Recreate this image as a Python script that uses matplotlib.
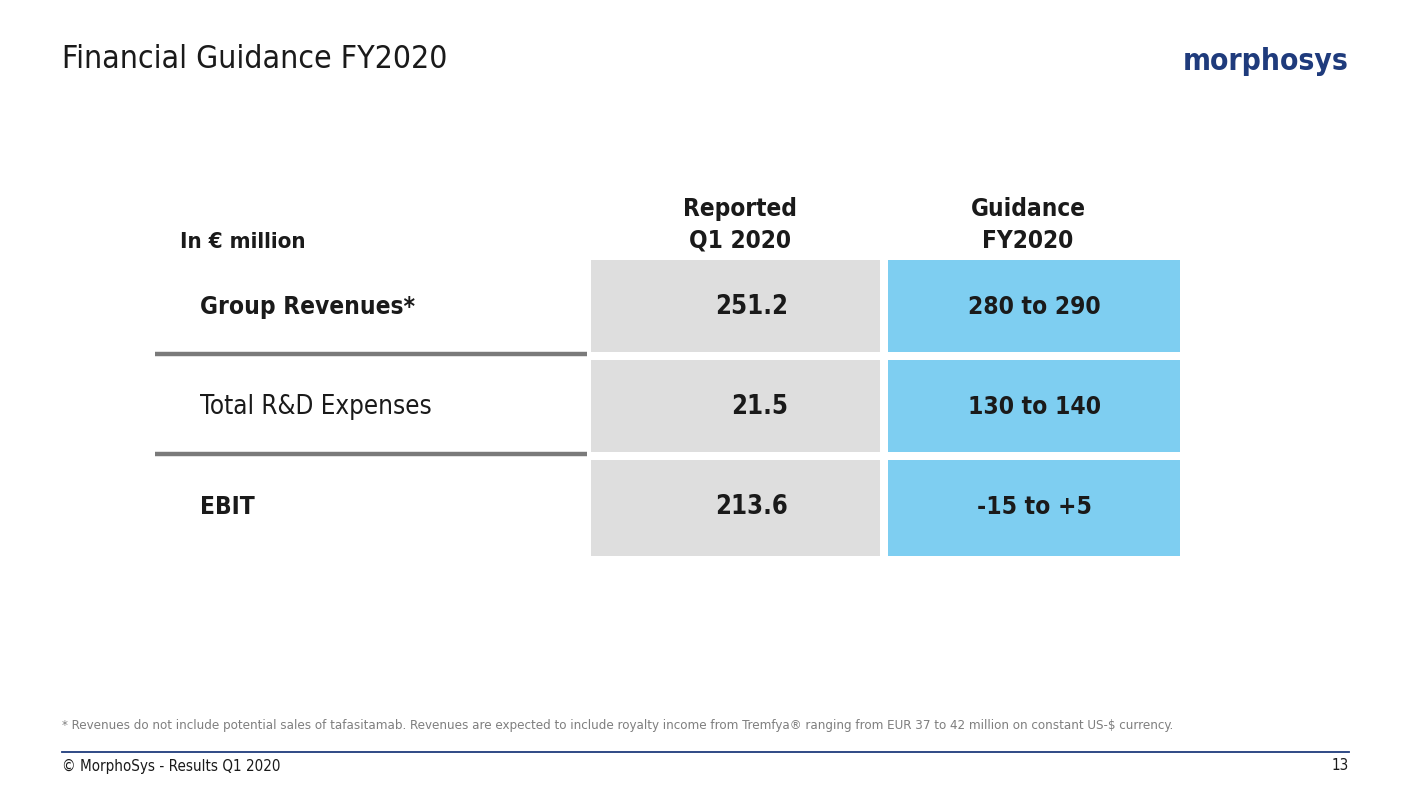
import matplotlib
matplotlib.use("Agg")
import matplotlib.pyplot as plt
from matplotlib.patches import Rectangle
from matplotlib import font_manager as fm

title = "Financial Guidance FY2020"
unit_label = "In € million"
col_headers = ["Reported\nQ1 2020", "Guidance\nFY2020"]
row_labels = ["Group Revenues*", "Total R&D Expenses", "EBIT"]
row_bold = [True, False, True]
reported = ["251.2", "21.5", "213.6"]
guidance = ["280 to 290", "130 to 140", "-15 to +5"]
footnote = ("* Revenues do not include potential sales of tafasitamab. Revenues are expected to include "
            "royalty income from Tremfya® ranging from EUR 37 to 42 million on constant US-$ currency.")
footer_left = "© MorphoSys - Results Q1 2020"
footer_right = "13"
logo = "morphosys"

# pick a condensed face if available
def has_condensed(weight):
    try:
        p = fm.FontProperties(family='DejaVu Sans', stretch='condensed', weight=weight)
        f = fm.findfont(p, fallback_to_default=False)
        return 'ondensed' in f
    except Exception:
        return False

COND = has_condensed('bold') and has_condensed('normal')
STRETCH = 'condensed' if COND else 'normal'
plt.rcParams['font.family'] = ['DejaVu Sans']

W, H = 1411, 794
fig = plt.figure(figsize=(W / 100, H / 100), dpi=100)
ax = fig.add_axes([0, 0, 1, 1])
ax.set_xlim(0, W)
ax.set_ylim(H, 0)
ax.axis('off')
renderer = fig.canvas.get_renderer()

gray = '#dedede'
blue = '#7ecef1'
txt = '#1a1a1a'


def fit_text(x, y, s, target_w, bold=False, ref=None, **kw):
    t = ax.text(x, y, s, fontsize=12, fontweight='bold' if bold else 'normal',
                stretch=STRETCH, **kw)
    if ref is not None:
        t.set_text(ref)
    w = t.get_window_extent(renderer).width
    t.set_fontsize(12 * target_w / w)
    t.set_text(s)
    return t


fit_text(62, 60, title, 384, color=txt, va='center', ha='left')
lg = ax.text(1266, 61, logo, fontsize=20, color='#1f3b7c', va='center', ha='center',
             fontweight='heavy', stretch='condensed')
lw_ = lg.get_window_extent(renderer).width
lg.set_fontsize(20 * 166 / lw_)

fit_text(180, 242, unit_label, 126, bold=True, color=txt, va='center', ha='left')
hx = [740, 1028]
for s, x in zip(col_headers, hx):
    fit_text(x, 225, s, 114, bold=True, ref=s.split('\n')[0], color=txt, va='center',
             ha='center', linespacing=1.38)

row_top = 260
row_h = 100
for i, (lab, b, r, g) in enumerate(zip(row_labels, row_bold, reported, guidance)):
    y0 = row_top + i * row_h
    h = 92 if i < 2 else 96
    ax.add_patch(Rectangle((591, y0), 289, h, facecolor=gray, edgecolor='none'))
    ax.add_patch(Rectangle((888, y0), 292, h, facecolor=blue, edgecolor='none'))
    yc = y0 + 47
    if b:
        fit_text(200, yc, lab, 214, bold=True, ref="Group Revenues*",
                 color=txt, va='center', ha='left')
    else:
        fit_text(200, yc, lab, 232, color=txt, va='center', ha='left')
    fit_text(788, yc, r, 72, bold=True, ref="251.2", color=txt, va='center', ha='right')
    fit_text(1034, yc, g, 133, bold=True, ref="280 to 290", color=txt, va='center', ha='center')
    if i < 2:
        ax.plot([155, 587], [y0 + 94, y0 + 94], color='#7a7a7a', lw=3.2, solid_capstyle='butt')

fit_text(62, 725, footnote, 1110, color='#7f7f7f', va='center', ha='left')
ax.plot([62, 1349], [752, 752], color='#1f3b7c', lw=1.3)
fl = fit_text(62, 766, footer_left, 218, color=txt, va='center', ha='left')
ax.text(1349, 766, footer_right, fontsize=fl.get_fontsize(), stretch=STRETCH,
        color=txt, va='center', ha='right')

fig.savefig("out.png", dpi=100, facecolor='white')
